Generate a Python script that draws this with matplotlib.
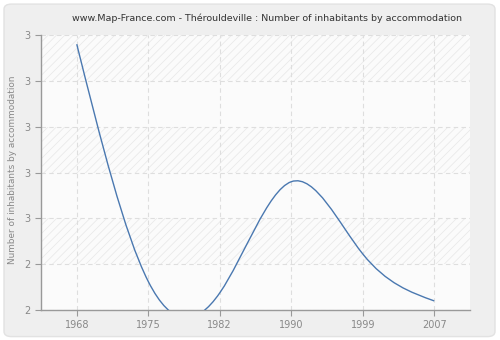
import numpy as np
import matplotlib
matplotlib.use("Agg")
import matplotlib.pyplot as plt
from matplotlib.path import Path
from matplotlib.patches import PathPatch, FancyBboxPatch

years = ["1968", "1975", "1982", "1990", "1999", "2007"]
values = [3.36, 2.325, 2.275, 2.76, 2.445, 2.24]
ytick_vals = [2.2, 2.4, 2.6, 2.8, 3.0, 3.2, 3.4]
ytick_labels = ["2", "2", "3", "3", "3", "3", "3"]
title = "www.Map-France.com - Thérouldeville : Number of inhabitants by accommodation"
ylabel = "Number of inhabitants by accommodation"

plt.rcParams['hatch.linewidth'] = 0.6
fig = plt.figure(figsize=(5.0, 3.4), dpi=100, facecolor="white")
bg = FancyBboxPatch((0.008, 0.01), 0.982, 0.978, boxstyle="round,pad=0,rounding_size=0.015",
                    transform=fig.transFigure, facecolor="#efefef", edgecolor="#e2e2e2",
                    linewidth=1.0, zorder=-10)
fig.patches.append(bg)

ax = fig.add_axes([0.082, 0.088, 0.858, 0.809])
ax.set_facecolor("#fbfbfb")
x = np.arange(len(years))
ax.set_xlim(-0.5, len(years) - 0.5)
ax.set_ylim(ytick_vals[0], ytick_vals[-1])

# alternating bands with faint hatch
for i in range(len(ytick_vals) - 1):
    if (len(ytick_vals) - 2 - i) % 2 == 0:
        ax.axhspan(ytick_vals[i], ytick_vals[i + 1], facecolor="#fbfbfb",
                   edgecolor="#eaeaea", hatch="////", linewidth=0, zorder=0)

# natural cubic spline slopes through data, drawn as bezier path
y = np.array(values, dtype=float)
n = len(y)
A = np.zeros((n, n)); b = np.zeros(n)
A[0, 0], A[0, 1] = 2, 1; b[0] = 3 * (y[1] - y[0])
A[-1, -2], A[-1, -1] = 1, 2; b[-1] = 3 * (y[-1] - y[-2])
for i in range(1, n - 1):
    A[i, i - 1], A[i, i], A[i, i + 1] = 1, 4, 1
    b[i] = 3 * (y[i + 1] - y[i - 1])
m = np.linalg.solve(A, b)
verts = [(x[0], y[0])]
codes = [Path.MOVETO]
for i in range(n - 1):
    verts += [(x[i] + 1/3, y[i] + m[i] / 3), (x[i + 1] - 1/3, y[i + 1] - m[i + 1] / 3), (x[i + 1], y[i + 1])]
    codes += [Path.CURVE4] * 3
ax.add_patch(PathPatch(Path(verts, codes), facecolor="none", edgecolor="#4a78b0", linewidth=1.0, zorder=3))

ax.set_xticks(x)
ax.set_xticklabels(years)
ax.set_yticks(ytick_vals)
ax.set_yticklabels(ytick_labels)
ax.grid(True, color="#dedede", linestyle=(0, (4, 3)), linewidth=0.8, zorder=1)
ax.set_axisbelow(True)
for s in ["top", "right"]:
    ax.spines[s].set_visible(False)
for s in ["left", "bottom"]:
    ax.spines[s].set_color("#999999")
    ax.spines[s].set_linewidth(1.0)
ax.tick_params(axis="both", colors="#999999", labelcolor="#888888", labelsize=7, length=4, width=0.8)
fig.text(0.026, 0.5, ylabel, rotation=90, ha="center", va="center", fontsize=6.4, color="#888888")
fig.text(0.535, 0.945, title, ha="center", va="center", fontsize=6.8, color="#333333")

fig.savefig("out.png", dpi=100, facecolor=fig.get_facecolor())
